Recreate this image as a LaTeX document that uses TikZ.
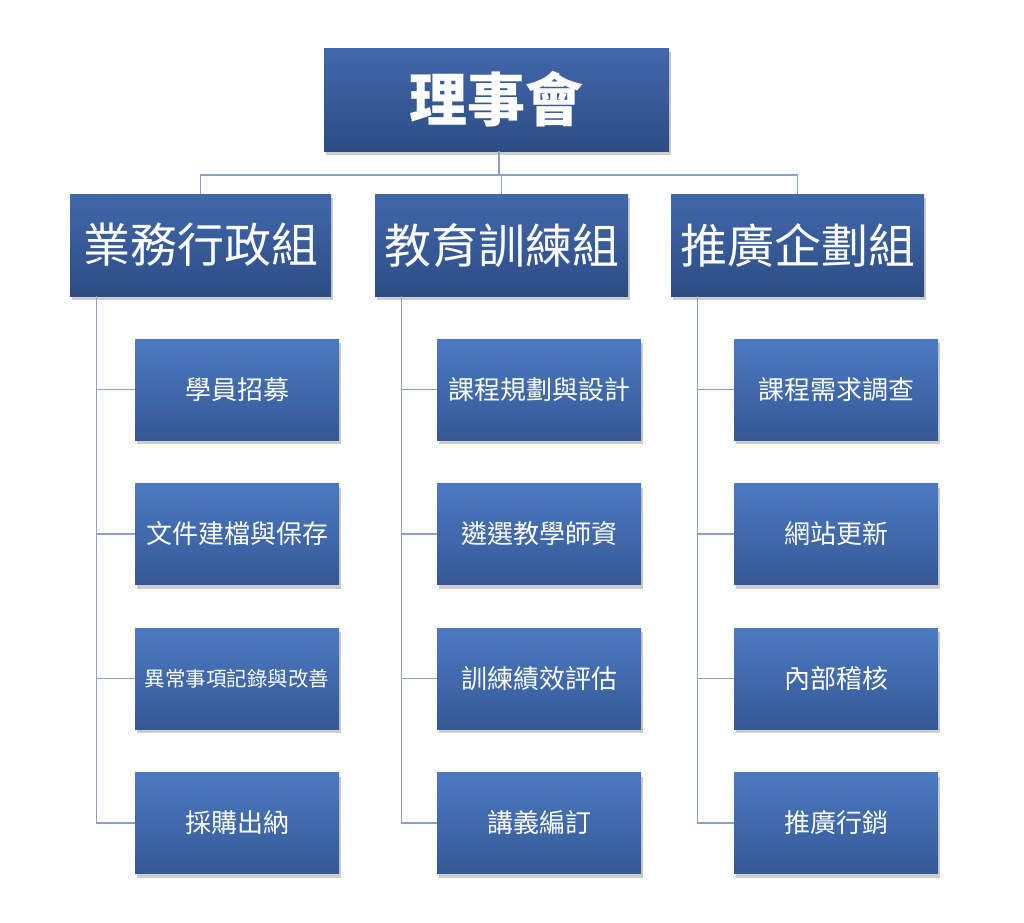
\documentclass[tikz,border=0pt]{standalone}
\usepackage{fontspec}
\newfontfamily\cjk{Noto Sans CJK TC}
\usetikzlibrary{shadows,calc}
\definecolor{ctop}{RGB}{76,122,196}
\definecolor{cbot}{RGB}{52,88,148}
\definecolor{gtop}{RGB}{66,104,172}
\definecolor{gbot}{RGB}{44,76,132}
\definecolor{linec}{RGB}{140,160,200}
\tikzset{
  box/.style={rectangle, inner sep=0pt, text=white, align=center,
    drop shadow={shadow xshift=2pt, shadow yshift=-4pt, opacity=0.28, fill=black!70},
    shading=axis},
  topbox/.style={box, top color=gtop, bottom color=gbot, minimum width=345pt, minimum height=103pt,
    font=\cjk\bfseries\fontsize{58}{60}\selectfont},
  grpbox/.style={box, top color=gtop, bottom color=gbot, minimum height=102pt,
    font=\cjk\fontsize{47}{50}\selectfont},
  childbox/.style={box, top color=ctop, bottom color=cbot, minimum width=204pt, minimum height=101pt,
    font=\cjk\fontsize{26}{28}\selectfont},
  conn/.style={draw=linec, line width=1.2pt}
}
\begin{document}
\begin{tikzpicture}[x=1pt,y=-1pt]
\useasboundingbox (0,0) rectangle (1024,922);
% connectors first (behind boxes)
\coordinate (j) at (499,175);
\node[topbox] (top) at (496.5,99.5) {理事會};
\node[grpbox, minimum width=261pt] (g1) at (200.5,245) {業務行政組};
\node[grpbox, minimum width=253pt] (g2) at (501.5,245) {教育訓練組};
\node[grpbox, minimum width=253pt] (g3) at (797.5,245) {推廣企劃組};

\node[childbox] (a1) at (237,389.5) {學員招募};
\node[childbox] (a2) at (237,534) {文件建檔與保存};
\node[childbox, font=\cjk\fontsize{20.5}{22}\selectfont] (a3) at (237,678.5) {異常事項記錄與改善};
\node[childbox] (a4) at (237,823) {採購出納};

\node[childbox] (b1) at (539,389.5) {課程規劃與設計};
\node[childbox] (b2) at (539,534) {遴選教學師資};
\node[childbox] (b3) at (539,678.5) {訓練績效評估};
\node[childbox] (b4) at (539,823) {講義編訂};

\node[childbox] (c1) at (836,389.5) {課程需求調查};
\node[childbox] (c2) at (836,534) {網站更新};
\node[childbox] (c3) at (836,678.5) {內部稽核};
\node[childbox] (c4) at (836,823) {推廣行銷};

\begin{scope}[on background layer/.try]
\end{scope}
\draw[conn] (top.south -| j) -- (j);
\draw[conn] (j) -| (g1.north);
\draw[conn] (j) -| (g3.north);
\draw[conn] (j) -| (g2.north);
\foreach \g/\p in {g1/a, g2/b, g3/c}{
  \foreach \i in {1,2,3,4}{
    \draw[conn] ($(\g.south west)+(26.5,0)$) |- (\p\i.west);
  }
}
\end{tikzpicture}
\end{document}
